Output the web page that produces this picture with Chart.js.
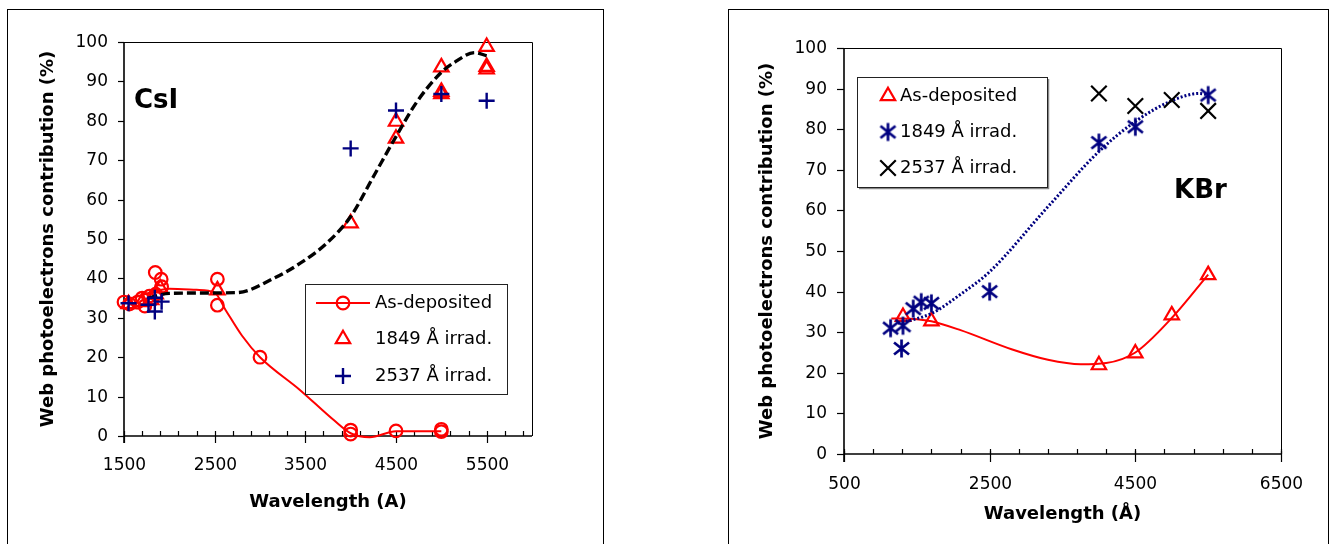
<!DOCTYPE html>
<html><head><meta charset="utf-8">
<script src="https://cdn.jsdelivr.net/npm/chart.js@4.4.1/dist/chart.umd.min.js"></script>
<style>
html,body{margin:0;padding:0;background:#fff;width:1329px;height:544px;overflow:hidden}
canvas{position:absolute;top:0}
#c1{left:0}
#c2{left:664px}
</style></head><body>
<canvas id="c1" width="664" height="544" style="width:664px;height:544px"></canvas>
<canvas id="c2" width="665" height="544" style="width:665px;height:544px"></canvas>
<script>
// ---------------- DATA: CsI panel ----------------
const csiAsDepX = [1500, 1560, 1650, 1700, 1730, 1780, 1850, 1845, 1910, 1915, 2530, 2530, 3000, 4000, 4000, 4500, 5000, 5000];
const csiAsDepY = [34.0, 33.5, 34.0, 35.0, 33.0, 35.5, 36.0, 41.5, 39.8, 37.9, 39.8, 33.2, 20.0, 1.5, 0.5, 1.3, 1.7, 1.1];
const csi1849X = [1550, 1700, 1800, 1850, 1900, 2530, 4000, 4500, 4500, 5000, 5000, 5000, 5500, 5500, 5500];
const csi1849Y = [33.5, 34.0, 34.5, 36.0, 37.5, 37.0, 54.0, 79.8, 75.5, 93.6, 87.4, 86.8, 98.8, 93.7, 93.1];
const csi2537X = [1550, 1770, 1840, 1840, 1915, 4000, 4500, 5000, 5500];
const csi2537Y = [33.7, 33.3, 35.1, 31.6, 34.1, 73.0, 82.6, 86.8, 85.1];
// smoothed trend curves
const csiAsDepFitX = [1500, 1800, 2000, 2300, 2500, 2620, 2800, 3000, 3440, 3810, 4000, 4210, 4500, 5000];
const csiAsDepFitY = [34.3, 36.5, 37.4, 37.1, 36.4, 32.0, 25.5, 20.0, 11.7, 4.1, 0.7, -0.3, 1.2, 1.2];
const csiIrrFitX = [1770, 2000, 2400, 2750, 3150, 3440, 3735, 4000, 4250, 4500, 4730, 5000, 5130, 5370, 5500];
const csiIrrFitY = [35.0, 36.2, 36.3, 36.4, 40.0, 43.8, 48.9, 55.7, 65.8, 76.0, 84.8, 92.3, 94.6, 97.3, 96.5];
const csiXTicks = [1500, 2500, 3500, 4500, 5500];
const csiLegend = ["As-deposited", "1849 Å irrad.", "2537 Å irrad."];

// ---------------- DATA: KBr panel ----------------
const kbrAsDepX = [1310, 1700, 4000, 4500, 5000, 5500];
const kbrAsDepY = [33.8, 32.7, 21.9, 24.8, 34.2, 44.1];
const kbr1849X = [1140, 1290, 1310, 1450, 1560, 1700, 2500, 4000, 4500, 5500];
const kbr1849Y = [31.0, 26.0, 31.6, 35.8, 37.4, 37.1, 40.0, 76.7, 80.6, 88.4];
const kbr2537X = [4000, 4500, 5000, 5500];
const kbr2537Y = [88.8, 85.7, 87.2, 84.5];
const kbrAsDepFitX = [1150, 1500, 1700, 2100, 2800, 3300, 3750, 4100, 4500, 5000, 5500];
const kbrAsDepFitY = [33.4, 33.2, 32.7, 30.5, 25.8, 23.2, 22.1, 22.4, 25.0, 33.5, 44.2];
const kbr1849FitX = [1240, 1700, 2090, 2500, 3280, 4000, 4500, 5000, 5380, 5500];
const kbr1849FitY = [32.2, 34.6, 39.2, 44.9, 60.5, 74.5, 81.9, 87.0, 88.8, 88.5];
const kbrXTicks = [500, 2500, 4500, 6500];
const kbrLegend = ["As-deposited", "1849 Å irrad.", "2537 Å irrad."];

const yTicks = [0, 10, 20, 30, 40, 50, 60, 70, 80, 90, 100];
const yTitle = "Web photoelectrons contribution (%)";

// ---------------- helpers ----------------
const RED = '#FF0000', NAVY = '#000080', BLACK = '#000000';
const pts = (xs, ys) => xs.map((x, i) => ({x: x, y: ys[i]}));

function makeAsterisk(color) {
  const c = document.createElement('canvas');
  c.width = 19; c.height = 21;
  const g = c.getContext('2d');
  g.strokeStyle = color; g.lineWidth = 2.7;
  g.beginPath();
  g.moveTo(9.5, 1.5); g.lineTo(9.5, 19.5);
  g.moveTo(2, 4.5); g.lineTo(17, 16.5);
  g.moveTo(17, 4.5); g.lineTo(2, 16.5);
  g.stroke();
  return c;
}
const asterisk = makeAsterisk(NAVY);

function markerDS(label, data, style, radius, color, bw, order) {
  return {
    label: label, data: data, showLine: false, pointStyle: style,
    pointRadius: radius, pointHoverRadius: radius, pointBorderWidth: bw, pointHoverBorderWidth: bw,
    pointBorderColor: color, pointBackgroundColor: 'rgba(0,0,0,0)', borderColor: color,
    clip: false, order: order
  };
}
function curveDS(data, color, width, dash, order) {
  return {
    label: '_fit', data: data, showLine: true, pointRadius: 0, pointHoverRadius: 0,
    borderColor: color, borderWidth: width, borderDash: dash,
    cubicInterpolationMode: 'monotone', tension: 0.4,
    fill: false, clip: false, order: order
  };
}

function drawMarker(ctx, m, x, y) {
  ctx.save();
  ctx.strokeStyle = m.color; ctx.fillStyle = 'rgba(0,0,0,0)'; ctx.lineWidth = m.bw;
  Chart.helpers.drawPoint(ctx, {pointStyle: m.style, radius: m.r, rotation: 0, borderWidth: m.bw}, x, y);
  ctx.restore();
}

function panelPlugin(p) {
  return {
    id: 'panel' + p.name,
    beforeDatasetsDraw(chart) {
      const ctx = chart.ctx, ca = chart.chartArea, xs = chart.scales.x, ys = chart.scales.y;
      ctx.save();
      // outer frame
      ctx.strokeStyle = '#000'; ctx.lineWidth = 1;
      ctx.strokeRect(p.frameL + 0.5, 9.5, p.frameR - p.frameL, 700);
      // plot area top/right border
      ctx.beginPath();
      ctx.moveTo(ca.left, ca.top + 0.5); ctx.lineTo(ca.right + 0.5, ca.top + 0.5); ctx.lineTo(ca.right + 0.5, ca.bottom);
      ctx.stroke();
      // axis lines
      ctx.lineWidth = 1.6;
      ctx.beginPath();
      ctx.moveTo(ca.left, ca.top); ctx.lineTo(ca.left, ca.bottom + (p.majorDown));
      ctx.moveTo(ca.left, ca.bottom); ctx.lineTo(ca.right, ca.bottom);
      ctx.stroke();
      // y ticks & labels
      ctx.lineWidth = 1.2;
      ctx.fillStyle = '#000';
      ctx.font = '17px "DejaVu Sans"';
      ctx.textAlign = 'right'; ctx.textBaseline = 'middle';
      yTicks.forEach(v => {
        const y = Math.round(ys.getPixelForValue(v)) + 0.5;
        ctx.beginPath(); ctx.moveTo(ca.left - p.yTickLen, y); ctx.lineTo(ca.left, y); ctx.stroke();
        ctx.fillText(String(v), p.yLabelRight, y);
      });
      // x minor ticks (inside)
      for (let v = xs.min; v <= xs.max + 0.01; v += p.minorStep) {
        const x = Math.round(xs.getPixelForValue(v)) + 0.5;
        ctx.beginPath(); ctx.moveTo(x, ca.bottom); ctx.lineTo(x, ca.bottom - 5); ctx.stroke();
      }
      // x major ticks & labels
      ctx.textAlign = 'center';
      p.xTicks.forEach(v => {
        const x = Math.round(xs.getPixelForValue(v)) + 0.5;
        ctx.beginPath(); ctx.moveTo(x, ca.bottom - p.majorUp); ctx.lineTo(x, ca.bottom + p.majorDown); ctx.stroke();
        ctx.fillText(String(v), x, p.xLabelY);
      });
      // axis titles
      ctx.font = 'bold 18px "DejaVu Sans"';
      ctx.fillText(p.xTitle, (ca.left + ca.right) / 2, p.xTitleY);
      ctx.save();
      ctx.translate(p.yTitleX, (ca.top + ca.bottom) / 2);
      ctx.rotate(-Math.PI / 2);
      ctx.fillText(yTitle, 0, 0);
      ctx.restore();
      ctx.restore();
    },
    afterDatasetsDraw(chart) {
      const ctx = chart.ctx;
      ctx.save();
      // legend box
      const L = p.legend;
      if (L.shadow) {
        ctx.strokeStyle = '#888'; ctx.lineWidth = 1.5;
        ctx.beginPath();
        ctx.moveTo(L.x + 2, L.y + L.h + 1.5); ctx.lineTo(L.x + L.w + 1.5, L.y + L.h + 1.5); ctx.lineTo(L.x + L.w + 1.5, L.y + 2);
        ctx.stroke();
      }
      ctx.fillStyle = '#fff';
      ctx.fillRect(L.x, L.y, L.w, L.h);
      ctx.strokeStyle = '#222'; ctx.lineWidth = 1;
      ctx.strokeRect(L.x + 0.5, L.y + 0.5, L.w, L.h);
      ctx.font = '18px "DejaVu Sans"';
      ctx.fillStyle = '#000'; ctx.textAlign = 'left'; ctx.textBaseline = 'middle';
      L.items.forEach((it, i) => {
        const y = L.rows[i];
        if (it.line) {
          ctx.save(); ctx.strokeStyle = it.color; ctx.lineWidth = 2;
          ctx.beginPath(); ctx.moveTo(it.line[0], y); ctx.lineTo(it.line[1], y); ctx.stroke(); ctx.restore();
        }
        drawMarker(ctx, it, L.markerX, y);
        ctx.fillStyle = '#000';
        ctx.fillText(p.legendLabels[i], L.textX, y);
      });
      // material label
      ctx.font = 'bold 26px "DejaVu Sans"';
      ctx.textBaseline = 'alphabetic';
      ctx.fillText(p.tag, p.tagX, p.tagY);
      ctx.restore();
    }
  };
}

Chart.defaults.font.family = '"DejaVu Sans"';

// ---------------- CsI chart ----------------
new Chart(document.getElementById('c1'), {
  type: 'scatter',
  data: {
    datasets: [
      curveDS(pts(csiAsDepFitX, csiAsDepFitY), RED, 2, [], 6),
      curveDS(pts(csiIrrFitX, csiIrrFitY), BLACK, 3.4, [9, 4], 3),
      markerDS(csiLegend[0], pts(csiAsDepX, csiAsDepY), 'circle', 6.3, RED, 2.2, 5),
      markerDS(csiLegend[1], pts(csi1849X, csi1849Y), 'triangle', 8.3, RED, 2.2, 4),
      markerDS(csiLegend[2], pts(csi2537X, csi2537Y), 'cross', 8, NAVY, 2.4, 1)
    ]
  },
  options: {
    responsive: false, animation: false, events: [],
    layout: {padding: {left: 124, right: 132, top: 42, bottom: 108}},
    scales: {
      x: {type: 'linear', min: 1500, max: 6000, display: false},
      y: {type: 'linear', min: 0, max: 100, display: false}
    },
    plugins: {legend: {display: false}, tooltip: {enabled: false}, title: {display: false}}
  },
  plugins: [panelPlugin({
    name: 'csi', frameL: 7, frameR: 603,
    yTickLen: 6, yLabelRight: 108, minorStep: 200, xTicks: csiXTicks, majorUp: 0, majorDown: 7,
    xLabelY: 466, xTitle: 'Wavelength (A)', xTitleY: 502, yTitleX: 48,
    legendLabels: csiLegend,
    legend: {x: 305, y: 284, w: 202, h: 110, markerX: 343, textX: 375, rows: [303, 339, 376], shadow: false,
      items: [
        {style: 'circle', r: 6.3, color: RED, bw: 2.2, line: [316, 370]},
        {style: 'triangle', r: 8.3, color: RED, bw: 2.2},
        {style: 'cross', r: 8, color: NAVY, bw: 2.4}
      ]},
    tag: 'CsI', tagX: 134, tagY: 108
  })]
});

// ---------------- KBr chart ----------------
new Chart(document.getElementById('c2'), {
  type: 'scatter',
  data: {
    datasets: [
      curveDS(pts(kbrAsDepFitX, kbrAsDepFitY), RED, 2, [], 6),
      curveDS(pts(kbr1849FitX, kbr1849FitY), NAVY, 3, [2, 2], 3),
      markerDS(kbrLegend[0], pts(kbrAsDepX, kbrAsDepY), 'triangle', 8.3, RED, 2.2, 5),
      markerDS(kbrLegend[1], pts(kbr1849X, kbr1849Y), asterisk, 9, NAVY, 2.7, 2),
      markerDS(kbrLegend[2], pts(kbr2537X, kbr2537Y), 'crossRot', 11, BLACK, 2.2, 1)
    ]
  },
  options: {
    responsive: false, animation: false, events: [],
    layout: {padding: {left: 180, right: 48, top: 48, bottom: 90}},
    scales: {
      x: {type: 'linear', min: 500, max: 6500, display: false},
      y: {type: 'linear', min: 0, max: 100, display: false}
    },
    plugins: {legend: {display: false}, tooltip: {enabled: false}, title: {display: false}}
  },
  plugins: [panelPlugin({
    name: 'kbr', frameL: 64, frameR: 664,
    yTickLen: 7, yLabelRight: 163, minorStep: 400, xTicks: kbrXTicks, majorUp: 3, majorDown: 8,
    xLabelY: 485, xTitle: 'Wavelength (Å)', xTitleY: 514, yTitleX: 103,
    legendLabels: kbrLegend,
    legend: {x: 193, y: 77, w: 190, h: 110, markerX: 224, textX: 236, rows: [96, 132, 168], shadow: true,
      items: [
        {style: 'triangle', r: 8.3, color: RED, bw: 2.2},
        {style: asterisk, r: 9, color: NAVY, bw: 2.7},
        {style: 'crossRot', r: 11, color: BLACK, bw: 2.2}
      ]},
    tag: 'KBr', tagX: 510, tagY: 198
  })]
});
</script>
</body></html>
